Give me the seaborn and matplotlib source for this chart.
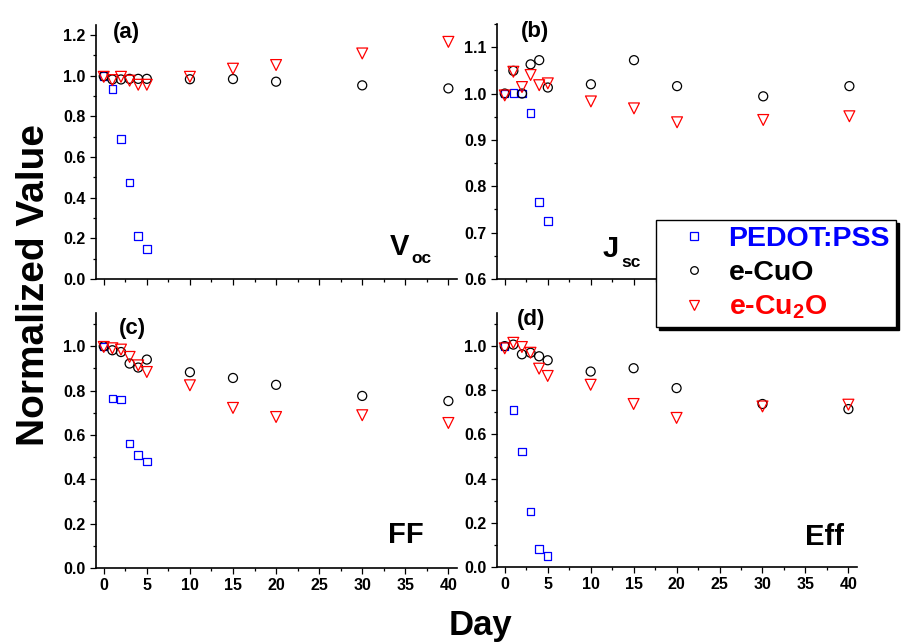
import matplotlib
matplotlib.use("Agg")
import matplotlib.pyplot as plt
import seaborn as sns
from matplotlib.lines import Line2D
from matplotlib.ticker import MultipleLocator, FormatStrFormatter

# ---------------- data ----------------
days_pedot = [0, 1, 2, 3, 4, 5]
days_cu = [0, 1, 2, 3, 4, 5, 10, 15, 20, 30, 40]

voc_pedot = [1.0, 0.936, 0.689, 0.475, 0.211, 0.147]
voc_cuo = [0.998, 0.982, 0.982, 0.985, 0.985, 0.985, 0.983, 0.984, 0.971, 0.953, 0.938]
voc_cu2o = [0.995, 0.979, 0.995, 0.976, 0.956, 0.956, 0.995, 1.035, 1.053, 1.11, 1.167]

jsc_pedot = [1.0, 1.001, 1.0, 0.958, 0.766, 0.725]
jsc_cuo = [1.0, 1.049, 1.0, 1.063, 1.072, 1.013, 1.020, 1.072, 1.016, 0.994, 1.016]
jsc_cu2o = [0.996, 1.047, 1.014, 1.040, 1.018, 1.022, 0.983, 0.968, 0.938, 0.943, 0.951]

ff_pedot = [1.0, 0.764, 0.759, 0.561, 0.510, 0.481]
ff_cuo = [1.0, 0.982, 0.974, 0.922, 0.904, 0.940, 0.883, 0.857, 0.826, 0.776, 0.753]
ff_cu2o = [0.997, 0.991, 0.985, 0.952, 0.914, 0.884, 0.824, 0.722, 0.681, 0.689, 0.654]

eff_pedot = [1.0, 0.711, 0.522, 0.252, 0.081, 0.049]
eff_cuo = [1.0, 1.007, 0.963, 0.970, 0.954, 0.936, 0.885, 0.900, 0.810, 0.738, 0.715]
eff_cu2o = [0.99, 1.015, 0.996, 0.970, 0.898, 0.865, 0.825, 0.738, 0.675, 0.727, 0.735]

series_names = ["PEDOT:PSS", "e-CuO", "e-Cu$_2$O"]
panel_letters = ["(a)", "(b)", "(c)", "(d)"]

# ---------------- style ----------------
sns.set_style("ticks")
plt.rcParams["font.family"] = ["Liberation Sans", "DejaVu Sans"]
plt.rcParams["font.weight"] = "bold"
plt.rcParams["text.color"] = "black"
plt.rcParams["axes.labelcolor"] = "black"
plt.rcParams["xtick.color"] = "black"
plt.rcParams["ytick.color"] = "black"
plt.rcParams["mathtext.fontset"] = "custom"
plt.rcParams["mathtext.rm"] = "Liberation Sans:bold"
plt.rcParams["mathtext.it"] = "Liberation Sans:bold"
plt.rcParams["mathtext.bf"] = "Liberation Sans:bold"

BLUE = "#0000FF"
BLACK = "#000000"
RED = "#FF0000"

W, H = 904, 643
fig = plt.figure(figsize=(W / 100, H / 100), dpi=100)


def px_axes(l, t, r, b):
    return fig.add_axes([l / W, 1 - b / H, (r - l) / W, (b - t) / H])


panels = [
    dict(box=(96, 25, 457, 279), ylim=(0, 1.25), major=0.2, minor=0.1, fmt="%.1f",
         data=(voc_pedot, voc_cuo, voc_cu2o), xlabels=False),
    dict(box=(497, 24, 858, 279), ylim=(0.6, 1.15), major=0.1, minor=0.05, fmt="%.1f",
         data=(jsc_pedot, jsc_cuo, jsc_cu2o), xlabels=False),
    dict(box=(96, 313, 457, 568), ylim=(0, 1.15), major=0.2, minor=0.1, fmt="%.1f",
         data=(ff_pedot, ff_cuo, ff_cu2o), xlabels=True),
    dict(box=(497, 313, 857, 567), ylim=(0, 1.15), major=0.2, minor=0.1, fmt="%.1f",
         data=(eff_pedot, eff_cuo, eff_cu2o), xlabels=True),
]

LW = 0.9
for p in panels:
    ax = px_axes(*p["box"])
    ped, cuo, cu2o = p["data"]
    sns.scatterplot(x=days_pedot, y=ped, marker="s", s=29, color=BLUE,
                    facecolor="none", edgecolor=BLUE, linewidth=LW, ax=ax,
                    legend=False, zorder=3, clip_on=False)
    sns.scatterplot(x=days_cu, y=cuo, marker="o", s=42, color=BLACK,
                    facecolor="none", edgecolor=BLACK, linewidth=LW, ax=ax,
                    legend=False, zorder=3, clip_on=False)
    sns.scatterplot(x=days_cu, y=cu2o, marker="v", s=61, color=RED,
                    facecolor="none", edgecolor=RED, linewidth=LW, ax=ax,
                    legend=False, zorder=4, clip_on=False)
    ax.set_xlim(-0.9, 41)
    ax.set_ylim(*p["ylim"])
    ax.xaxis.set_major_locator(MultipleLocator(5))
    ax.xaxis.set_minor_locator(MultipleLocator(2.5))
    ax.yaxis.set_major_locator(MultipleLocator(p["major"]))
    ax.yaxis.set_minor_locator(MultipleLocator(p["minor"]))
    ax.yaxis.set_major_formatter(FormatStrFormatter(p["fmt"]))
    ax.set_xlabel("")
    ax.set_ylabel("")
    sns.despine(ax=ax)
    for s in ("left", "bottom"):
        ax.spines[s].set_linewidth(1.2)
        ax.spines[s].set_color("black")
    ax.tick_params(which="major", direction="out", length=4.5, width=0.9,
                   labelsize=11.5, pad=3, colors="black")
    ax.tick_params(which="minor", direction="out", length=2.5, width=0.9,
                   colors="black")
    if not p["xlabels"]:
        ax.tick_params(axis="x", labelbottom=False)
    for lab in ax.get_xticklabels() + ax.get_yticklabels():
        lab.set_fontweight("bold")
        lab.set_color("black")
    ax.set_facecolor("white")


def ftext(x, y, s, size, **kw):
    fig.text(x / W, 1 - y / H, s, fontsize=size, fontweight="bold",
             color="black", **kw)


# panel letters
ftext(113, 38, panel_letters[0], 16, va="baseline")
ftext(521, 37, panel_letters[1], 16, va="baseline")
ftext(119, 334, panel_letters[2], 16, va="baseline")
ftext(517, 325, panel_letters[3], 16, va="baseline")

# quantity labels
ftext(390, 255, "V", 21, va="baseline")
ftext(411, 263, "oc", 12.5, va="baseline")
ftext(603, 257, "J", 21, va="baseline")
ftext(621, 267, "sc", 12.5, va="baseline")
ftext(388, 543, "FF", 21, va="baseline")
ftext(805, 545, "Eff", 21, va="baseline")

# axis labels
ftext(34, 285, "Normalized Value", 28, rotation=90, ha="center", va="center")
ftext(481, 626, "Day", 25, ha="center", va="center")

# legend
handles = [
    Line2D([], [], ls="none", marker="s", ms=5.5, mfc="none", mec=BLUE, mew=LW),
    Line2D([], [], ls="none", marker="o", ms=5.5, mfc="none", mec=BLACK, mew=LW),
    Line2D([], [], ls="none", marker="v", ms=7.5, mfc="none", mec=RED, mew=LW),
]
leg = fig.legend(handles, series_names, loc="upper left",
                 bbox_to_anchor=(656 / W, 1 - 220 / H), borderaxespad=0,
                 fontsize=20.5, frameon=True, fancybox=False, edgecolor="black",
                 facecolor="white", framealpha=1,
                 shadow={"color": "black", "alpha": 1.0},
                 borderpad=0.2, labelspacing=0.28, handlelength=2.25,
                 handletextpad=0.1)
leg.get_frame().set_linewidth(1.0)
for t, c in zip(leg.get_texts(), [BLUE, BLACK, RED]):
    t.set_color(c)
    t.set_fontweight("bold")

fig.savefig("out.png", dpi=100, facecolor="white")
